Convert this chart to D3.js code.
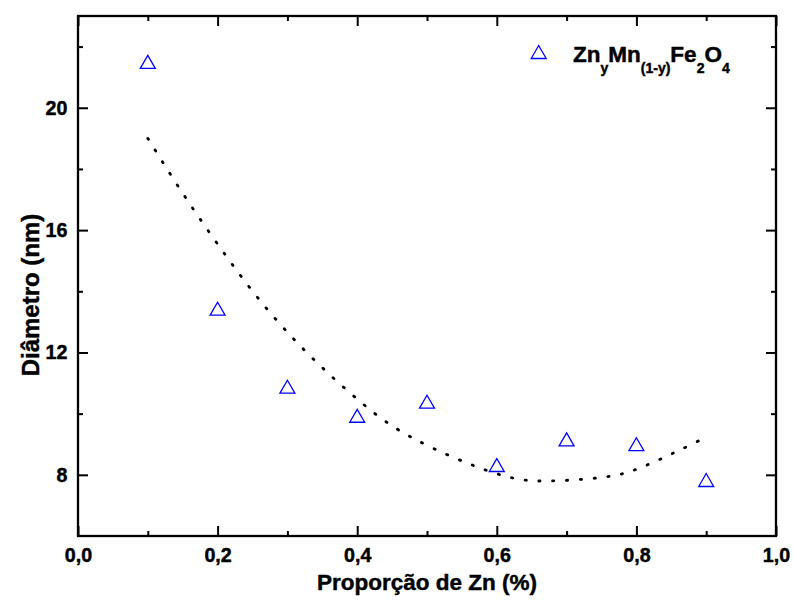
<!DOCTYPE html>
<html>
<head>
<meta charset="utf-8">
<script src="https://cdn.jsdelivr.net/npm/d3@7"></script>
<style>
  html, body { margin: 0; padding: 0; background: #fff; }
  svg { display: block; }
  svg text { font-family: "Liberation Sans", Arial, sans-serif !important; font-weight: 700 !important; fill: #000; stroke: #000; stroke-width: 0.45px; }
  .tick text { font-size: 19.7px !important; }
</style>
</head>
<body>
<svg id="chart" width="793" height="606"></svg>
<script>
// ---- data ----
const zincFraction = [0.1, 0.2, 0.3, 0.4, 0.5, 0.6, 0.7, 0.8, 0.9];
const diameterNm   = [21.5, 13.43, 10.88, 9.93, 10.39, 8.32, 9.16, 9.0, 7.83];
// dotted fit curve
const fitX = [0.100, 0.149, 0.202, 0.260, 0.329, 0.405, 0.483, 0.598, 0.675, 0.752, 0.810, 0.890];
const fitY = [19.00, 17.24, 15.48, 13.72, 11.97, 10.38, 9.16, 8.05, 7.80, 7.92, 8.27, 9.12];
const xMajorTicks = [0, 0.2, 0.4, 0.6, 0.8, 1.0];
const xMinorTicks = [0.1, 0.3, 0.5, 0.7, 0.9];
const yMajorTicks = [8, 12, 16, 20];
const yMinorTicks = [10, 14, 18, 22];
const xTitle = "Proporção de Zn (%)";
const yTitle = "Diâmetro (nm)";

// ---- layout ----
const svg = d3.select("#chart");
const pL = 78, pR = 776, pT = 16, pB = 536;
const x = d3.scaleLinear().domain([0, 1]).range([pL, pR]);
const y = d3.scaleLinear().domain([6, 23]).range([pB, pT]);
const fmt = d => d.toFixed(1).replace(".", ",");
const tickFont = "19.7px";

function styleAxis(g) {
  g.attr("font-family", null).attr("font-size", tickFont);
  g.select(".domain").remove();
  g.selectAll(".tick line").attr("stroke", "#000").attr("stroke-width", 2);
  g.selectAll(".tick text").attr("fill", "#000").attr("font-size", tickFont).style("font-size", tickFont, "important");
}

// bottom
svg.append("g").attr("transform", `translate(0,${pB})`)
  .call(d3.axisBottom(x).tickValues(xMajorTicks).tickSize(-10).tickPadding(12.2).tickFormat(fmt)).call(styleAxis);
svg.append("g").attr("transform", `translate(0,${pB})`)
  .call(d3.axisBottom(x).tickValues(xMinorTicks).tickSize(-5).tickFormat("")).call(styleAxis);
// top
svg.append("g").attr("transform", `translate(0,${pT})`)
  .call(d3.axisTop(x).tickValues(xMajorTicks).tickSize(-10).tickFormat("")).call(styleAxis);
svg.append("g").attr("transform", `translate(0,${pT})`)
  .call(d3.axisTop(x).tickValues(xMinorTicks).tickSize(-5).tickFormat("")).call(styleAxis);
// left
svg.append("g").attr("transform", `translate(${pL},0)`)
  .call(d3.axisLeft(y).tickValues(yMajorTicks).tickSize(-10).tickPadding(10.5).tickFormat(d3.format("d"))).call(styleAxis);
svg.append("g").attr("transform", `translate(${pL},0)`)
  .call(d3.axisLeft(y).tickValues(yMinorTicks).tickSize(-5).tickFormat("")).call(styleAxis);
// right
svg.append("g").attr("transform", `translate(${pR},0)`)
  .call(d3.axisRight(y).tickValues(yMajorTicks).tickSize(-10).tickFormat("")).call(styleAxis);
svg.append("g").attr("transform", `translate(${pR},0)`)
  .call(d3.axisRight(y).tickValues(yMinorTicks).tickSize(-5).tickFormat("")).call(styleAxis);

// frame
svg.append("rect").attr("x", pL).attr("y", pT).attr("width", pR - pL).attr("height", pB - pT)
  .attr("fill", "none").attr("stroke", "#000").attr("stroke-width", 2.3);

// fit curve
const fitPts = fitX.map((d, i) => [d, fitY[i]]);
svg.append("path")
  .attr("d", d3.line().x(d => x(d[0])).y(d => y(d[1])).curve(d3.curveNatural)(fitPts))
  .attr("fill", "none").attr("stroke", "#000").attr("stroke-width", 2.8)
  .attr("stroke-linecap", "round").attr("stroke-dasharray", "1.2 12.6");

// markers
const triSize = 97;
const triR = Math.sqrt(triSize / (3 * Math.sqrt(3))); // centroid-to-base distance
const tri = d3.symbol().type(d3.symbolTriangle).size(triSize);
svg.append("g").selectAll("path").data(zincFraction.map((d, i) => [d, diameterNm[i]])).join("path")
  .attr("d", tri)
  .attr("transform", d => `translate(${x(d[0])},${y(d[1]) + triR / 2})`)
  .attr("fill", "none").attr("stroke", "#0000ff").attr("stroke-width", 1.3);

// legend
svg.append("path").attr("d", tri).attr("transform", `translate(538.7,${52 + triR / 2})`)
  .attr("fill", "none").attr("stroke", "#0000ff").attr("stroke-width", 1.3);
const lg = svg.append("text").attr("x", 573).attr("y", 61.7)
  .style("font-size", "22.5px");
const parts = [["Zn", 0], ["y", 1], ["Mn", 0], ["(1-y)", 1], ["Fe", 0], ["2", 1], ["O", 0], ["4", 1]];
let sub = false;
parts.forEach(([t, s]) => {
  const ts = lg.append("tspan").text(t);
  if (s) { ts.style("font-size", "14px"); if (!sub) ts.attr("dy", 11.6); }
  else if (sub) ts.attr("dy", -11.6);
  sub = !!s;
});

// titles
svg.append("text").attr("x", 427).attr("y", 590).attr("text-anchor", "middle")
  .style("font-size", "22.5px").text(xTitle);
svg.append("text").attr("transform", "translate(39,295) rotate(-90)").attr("text-anchor", "middle")
  .style("font-size", "24px").text(yTitle);
</script>
</body>
</html>
